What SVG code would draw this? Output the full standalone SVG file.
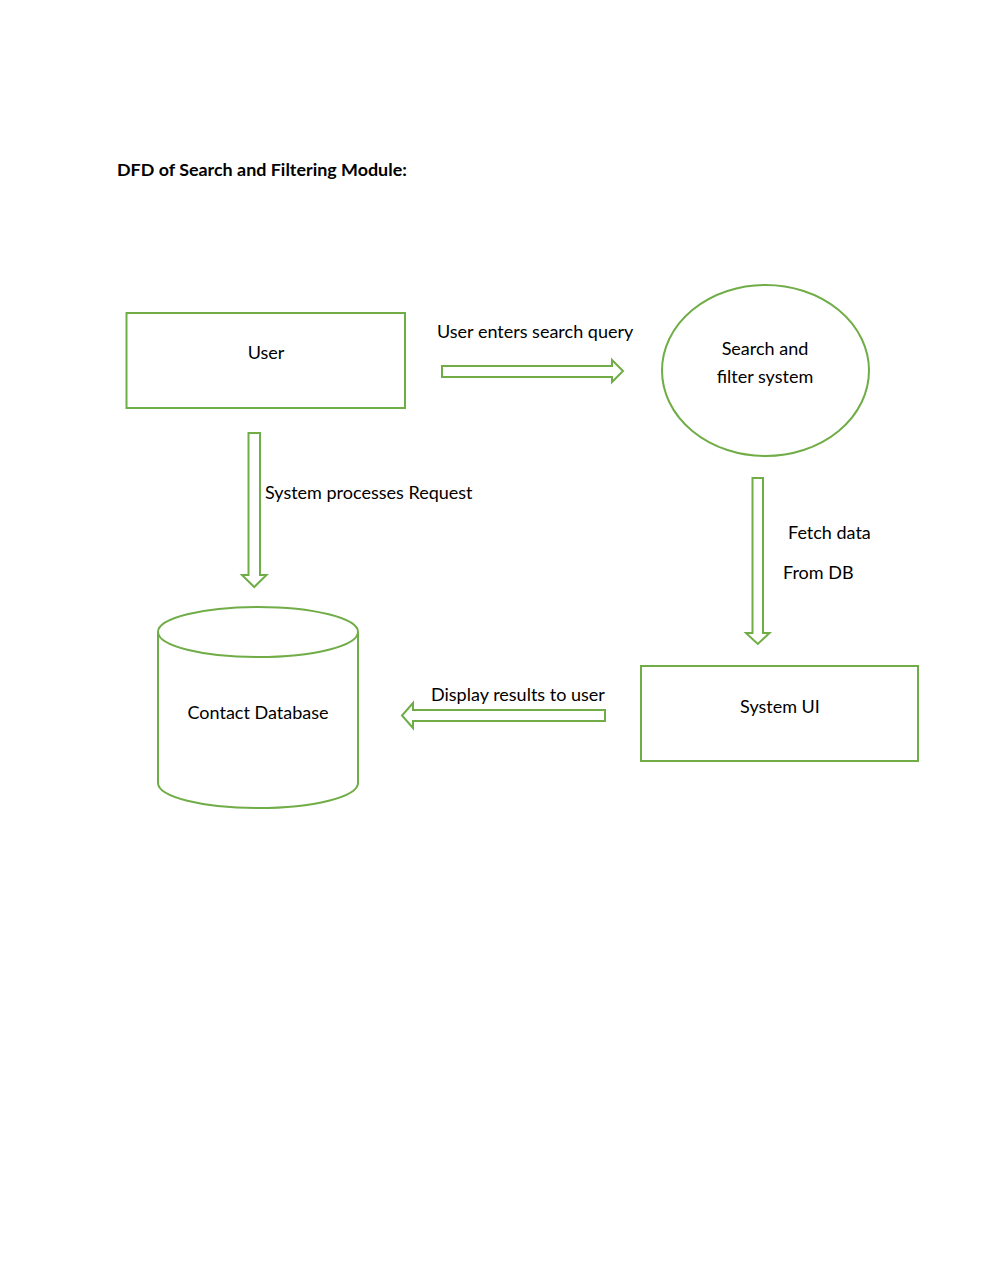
<svg xmlns="http://www.w3.org/2000/svg" width="989" height="1280" viewBox="0 0 989 1280">
<style>
.shape{fill:none;stroke:#70AD47;stroke-width:2}
.arrow{fill:#ffffff;stroke:#70AD47;stroke-width:2;stroke-linejoin:miter}
.t{font-family:"Lato","Liberation Sans",sans-serif;font-size:18px;fill:#000}
.c{text-anchor:middle}
.title{font-family:"Lato","Liberation Sans",sans-serif;font-size:17.9px;font-weight:bold;fill:#000}
</style>
<rect width="989" height="1280" fill="#ffffff"/>
<text class="title" x="117" y="176">DFD of Search and Filtering Module:</text>
<g id="user">
<rect class="shape" x="126.5" y="313" width="278.5" height="95"/>
<text class="t c" x="266" y="359">User</text>
</g>
<g id="search-filter">
<ellipse class="shape" cx="765.5" cy="370.5" rx="103.5" ry="85.5"/>
<text class="t c" x="765" y="355">Search and</text>
<text class="t c" x="765" y="383">filter system</text>
</g>
<g id="contact-db">
<path class="shape" d="M158,632 L158,783 A100,25 0 0 0 358,783 L358,632"/>
<ellipse class="shape" cx="258" cy="632" rx="100" ry="25"/>
<text class="t c" x="258" y="719">Contact Database</text>
</g>
<g id="system-ui">
<rect class="shape" x="641" y="666" width="277" height="95"/>
<text class="t c" x="780" y="713">System UI</text>
</g>
<g id="connectors">
<path class="arrow" d="M442,366 L612,366 L612,360 L623,371 L612,382 L612,377 L442,377 Z"/>
<text class="t" x="437" y="338">User enters search query</text>
<path class="arrow" d="M248.5,433 L260,433 L260,575 L266.5,575 L254.25,587 L242,575 L248.5,575 Z"/>
<text class="t" x="265" y="499">System processes Request</text>
<path class="arrow" d="M752.5,478 L763,478 L763,633 L769.5,633 L757.75,644 L746,633 L752.5,633 Z"/>
<text class="t" x="788" y="539">Fetch data</text>
<text class="t" x="783" y="579">From DB</text>
<path class="arrow" d="M605,710 L413,710 L413,703 L402,715.5 L413,728 L413,721 L605,721 Z"/>
<text class="t" x="431" y="701">Display results to user</text>
</g>
</svg>
